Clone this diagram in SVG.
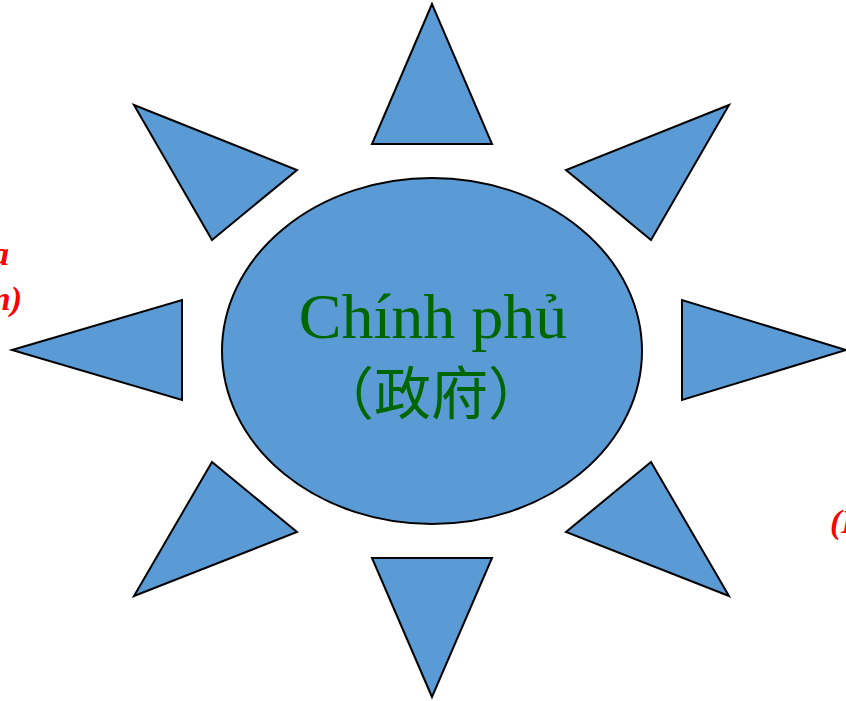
<svg xmlns="http://www.w3.org/2000/svg" width="846" height="701" viewBox="0 0 846 701">
<style>
.ray{fill:#5B9BD5;stroke:#000;stroke-width:2;stroke-linejoin:miter}
.lbl{fill:#006600;text-anchor:middle}
.red{fill:#FF0000;font-family:"Liberation Serif",serif;font-weight:bold;font-style:italic;font-size:34px}
</style>
<rect width="846" height="701" fill="#fff"/>
<g id="edge-fragments">
<text class="red" x="9" y="265" text-anchor="end">a</text>
<text class="red" x="22" y="310" text-anchor="end">n)</text>
<text class="red" x="830" y="533">(I</text>
</g>
<g id="rays">
<g id="ray-top"><polygon class="ray" points="432,4 372,144 492,144"/></g>
<g id="ray-top-left"><polygon class="ray" points="134,105 297,170 212,240"/></g>
<g id="ray-top-right"><polygon class="ray" points="729,105 566,170 651,240"/></g>
<g id="ray-left"><polygon class="ray" points="12,350 182,300 182,400"/></g>
<g id="ray-right"><polygon class="ray" points="846,350 682,300 682,400"/></g>
<g id="ray-bottom-left"><polygon class="ray" points="134,596 297,532 212,462"/></g>
<g id="ray-bottom-right"><polygon class="ray" points="729,596 566,532 651,462"/></g>
<g id="ray-bottom"><polygon class="ray" points="432,697 372,558 492,558"/></g>
</g>
<g id="center">
<ellipse cx="432" cy="351" rx="210" ry="173" fill="#5B9BD5" stroke="#000" stroke-width="2"/>
<text class="lbl" x="433" y="338" font-family="Liberation Serif,serif" font-size="64">Chính phủ</text>
<text class="lbl" x="431" y="414" font-family="'Noto Sans CJK SC',sans-serif" font-size="57">（政府）</text>
</g>
</svg>
